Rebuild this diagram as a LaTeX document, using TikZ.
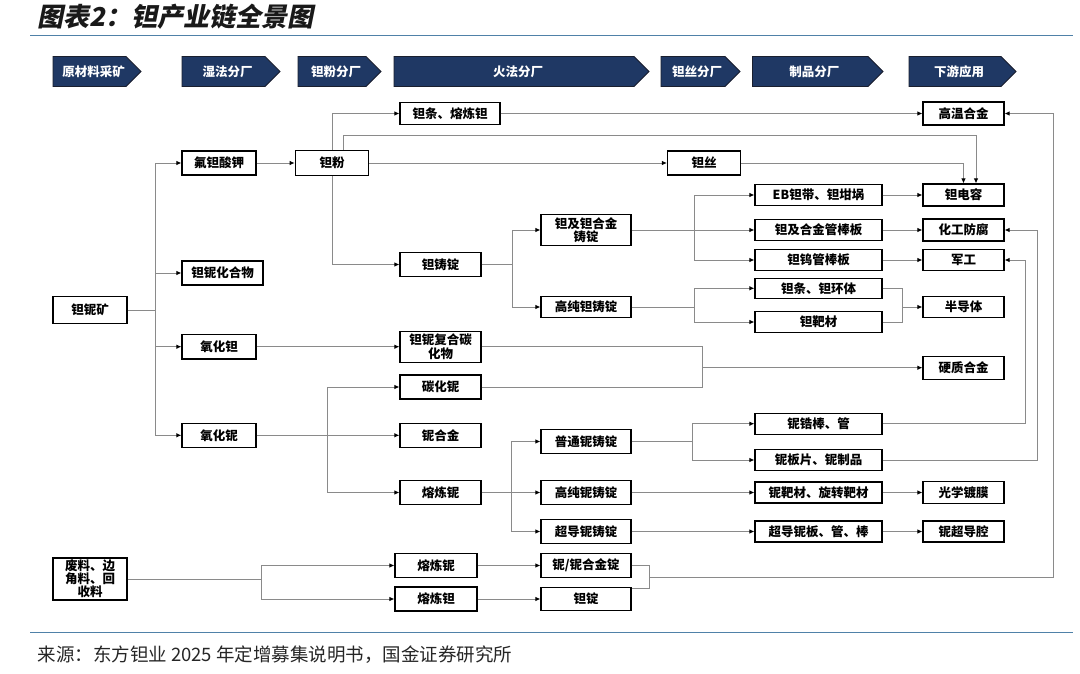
\documentclass[tikz,border=0pt]{standalone}
\usepackage{fontspec}
\setmainfont{Noto Sans CJK SC}
\newfontfamily\titlefont{Noto Sans CJK SC}[FakeSlant=0.2]
\usetikzlibrary{arrows.meta}
\definecolor{navy}{HTML}{1F3864}
\definecolor{navyline}{HTML}{1A1F2E}
\definecolor{rulec}{HTML}{4F81A8}
\definecolor{lin}{HTML}{8A8A8A}
\newcommand\mychev[4]{%
  \fill[navy,draw=navyline,line width=0.9pt] (#1,56.5) -- ({#2-15},56.5) -- (#2,71.5) -- ({#2-15},86.5) -- (#1,86.5) -- cycle;
  \node[chevtext] (#3) at ({(#1+#2-7)/2},71.5) {#4};}
\begin{document}
\begin{tikzpicture}[x=1pt,y=-1pt,
  box/.style={draw=black,line width=1.2pt,fill=white,inner sep=0pt,align=center,
    font=\fontsize{12.5}{13.5}\selectfont\bfseries},
  sz/.style 2 args={minimum width=#1pt,minimum height=#2pt},
  conn/.style={draw=lin,line width=0.9pt},
  arr/.style={conn,-{Latex[length=5pt,width=4.5pt,color=black]}},
  chevtext/.style={text=white,font=\fontsize{12.5}{14}\selectfont\bfseries,inner sep=0pt}]
\useasboundingbox (0,0) rectangle (1080,673);

% title and rules
\node[anchor=west,font=\titlefont\fontsize{26}{28}\selectfont\bfseries,text=black!90] (title) at (34,17) {图表2：钽产业链全景图};
\draw[rulec,line width=1.4pt] (30,35.5) -- (1073,35.5);
\draw[rulec,line width=1.4pt] (30,632.7) -- (1073,632.7);
\node[anchor=west,font=\fontsize{18.5}{20}\selectfont,text=black!85] (src) at (34,655) {来源：东方钽业 2025 年定增募集说明书，国金证券研究所};

% header chevrons
\mychev{53}{141}{h1}{原材料采矿}
\mychev{182}{280}{h2}{湿法分厂}
\mychev{298}{381}{h3}{钽粉分厂}
\mychev{394}{649}{h4}{火法分厂}
\mychev{661}{740}{h5}{钽丝分厂}
\mychev{752.5}{883}{h6}{制品分厂}
\mychev{909}{1016}{h7}{下游应用}

% column 0
\node[box,sz={74}{27}] (kuang) at (90,310) {钽铌矿};
\node[box,sz={74}{42},font=\fontsize{12.5}{13}\selectfont\bfseries] (fl) at (90,579) {废料、边\\角料、回\\收料};
% column 1
\node[box,sz={74}{24}] (fu) at (219,163) {氟钽酸钾};
\node[box,sz={81}{24}] (hhw) at (222.5,273) {钽铌化合物};
\node[box,sz={74}{24.5}] (yht) at (219,346.7) {氧化钽};
\node[box,sz={74}{24}] (yhn) at (219,435.3) {氧化铌};
% column 2
\node[box,sz={73.5}{25}] (fen) at (332,163) {钽粉};
% column 3
\node[box,sz={100}{22}] (tiao) at (450,113.5) {钽条、熔炼钽};
\node[box,sz={81}{24}] (zd) at (440.5,264.5) {钽铸锭};
\node[box,sz={81}{31}] (fh) at (440.5,346.7) {钽铌复合碳\\化物};
\node[box,sz={81}{24}] (thn) at (440.5,387) {碳化铌};
\node[box,sz={81}{24}] (nhj) at (440.5,435.3) {铌合金};
\node[box,sz={81}{24}] (rln) at (440.5,492.5) {熔炼铌};
\node[box,sz={82}{24}] (rln2) at (436,565.5) {熔炼铌};
\node[box,sz={82}{24}] (rlt) at (436,599) {熔炼钽};
% column 4
\node[box,sz={90}{31}] (hj) at (586,230) {钽及钽合金\\铸锭};
\node[box,sz={90}{21}] (gczd) at (586,307) {高纯钽铸锭};
\node[box,sz={90}{24}] (ptn) at (586,441.5) {普通铌铸锭};
\node[box,sz={90}{24}] (gcn) at (586,492.5) {高纯铌铸锭};
\node[box,sz={90}{24.5}] (cdn) at (586,531.5) {超导铌铸锭};
\node[box,sz={90}{24}] (nnh) at (586,565.5) {铌/铌合金锭};
\node[box,sz={90}{23.5}] (td) at (586,599) {钽锭};
% column 5
\node[box,sz={73}{24}] (si) at (704,163) {钽丝};
\node[box,sz={127}{21}] (eb) at (818.5,195) {EB钽带、钽坩埚};
\node[box,sz={127}{21}] (gbb) at (818.5,230) {钽及合金管棒板};
\node[box,sz={127}{21}] (wgb) at (818.5,260) {钽钨管棒板};
\node[box,sz={127}{20}] (ttht) at (818.5,288.3) {钽条、钽环体};
\node[box,sz={127}{21}] (bc) at (818.5,322) {钽靶材};
\node[box,sz={127}{21}] (ngb) at (818.5,423.7) {铌锆棒、管};
\node[box,sz={127}{21}] (nbp) at (818.5,460) {铌板片、铌制品};
\node[box,sz={127}{21}] (nbx) at (818.5,492.5) {铌靶材、旋转靶材};
\node[box,sz={127}{21}] (cdb) at (818.5,531.5) {超导铌板、管、棒};
% column 6
\node[box,sz={81}{23}] (gw) at (963.5,113.5) {高温合金};
\node[box,sz={81}{22}] (cap) at (963.5,195) {钽电容};
\node[box,sz={81}{22}] (hg) at (963.5,230) {化工防腐};
\node[box,sz={81}{21}] (jg) at (963.5,260) {军工};
\node[box,sz={81}{21}] (bdt) at (963.5,307) {半导体};
\node[box,sz={81}{23}] (yzhj) at (963.5,367.7) {硬质合金};
\node[box,sz={81}{22}] (gxdm) at (963.5,492.5) {光学镀膜};
\node[box,sz={81}{21}] (ncd) at (963.5,531.5) {铌超导腔};

% connectors
\coordinate (b1) at (155,310);
\draw[conn] (kuang.east) -- (b1);
\draw[arr] (b1) |- (fu.west);
\draw[arr] (b1) |- (hhw.west);
\draw[arr] (b1) |- (yht.west);
\draw[arr] (b1) |- (yhn.west);
\draw[arr] (fu.east) -- (fen.west);
\draw[arr] (fen.north) |- (tiao.west);
\draw[arr] ([xshift=11.7pt]fen.north) -- ++(0,-14.7) -| ([xshift=12.5pt]cap.north);
\draw[arr] (fen.south) |- (zd.west);
\draw[arr] (fen.east) -- (si.west);
\draw[arr] (si.east) -| (cap.north);
\draw[arr] (tiao.east) -- (gw.west);

\coordinate (b2) at (512,264.5);
\draw[conn] (zd.east) -- (b2);
\draw[arr] (b2) |- (hj.west);
\draw[arr] (b2) |- (gczd.west);
\coordinate (b3) at (694,230);
\draw[arr] (hj.east) -- (gbb.west);
\draw[arr] (b3) |- (eb.west);
\draw[arr] (b3) |- (wgb.west);
\draw[arr] (eb.east) -- (cap.west);
\draw[arr] (gbb.east) -- (hg.west);
\draw[arr] (wgb.east) -- (jg.west);
\coordinate (b4) at (694,307);
\draw[conn] (gczd.east) -- (b4);
\draw[arr] (b4) |- (ttht.west);
\draw[arr] (b4) |- (bc.west);
\coordinate (b5) at (902,307);
\draw[conn] (ttht.east) -| (b5);
\draw[conn] (bc.east) -| (b5);
\draw[arr] (b5) -- (bdt.west);

\draw[arr] (yht.east) -- (fh.west);
\coordinate (b6) at (702.7,367.7);
\draw[conn] (fh.east) -| (b6);
\draw[conn] (thn.east) -| (b6);
\draw[arr] (b6) -- (yzhj.west);

\coordinate (b7) at (327.8,435.3);
\draw[conn] (yhn.east) -- (b7);
\draw[arr] (b7) |- (thn.west);
\draw[arr] (b7) -- (nhj.west);
\draw[arr] (b7) |- (rln.west);
\coordinate (b8) at (511,492.5);
\draw[conn] (rln.east) -- (b8);
\draw[arr] (b8) |- (ptn.west);
\draw[arr] (b8) -- (gcn.west);
\draw[arr] (b8) |- (cdn.west);
\coordinate (b9) at (692.5,441.5);
\draw[conn] (ptn.east) -- (b9);
\draw[arr] (b9) |- (ngb.west);
\draw[arr] (b9) |- (nbp.west);
\draw[arr] (ngb.east) -| ([xshift=20.5pt]jg.east) -- (jg.east);
\draw[arr] (nbp.east) -| ([xshift=33pt]hg.east) -- (hg.east);
\draw[arr] (gcn.east) -- (nbx.west);
\draw[arr] (nbx.east) -- (gxdm.west);
\draw[arr] (cdn.east) -- (cdb.west);
\draw[arr] (cdb.east) -- (ncd.west);

\coordinate (b10) at (261.7,579);
\draw[conn] (fl.east) -- (b10);
\draw[arr] (b10) |- (rln2.west);
\draw[arr] (b10) |- (rlt.west);
\draw[arr] (rln2.east) -- (nnh.west);
\draw[arr] (rlt.east) -- (td.west);
\coordinate (b11) at (649.5,577.7);
\draw[conn] (nnh.east) -| (b11);
\draw[conn] ([yshift=11pt]td.east) -| (b11);
\draw[arr] (b11) -| ([xshift=48.5pt]gw.east) -- (gw.east);
\end{tikzpicture}
\end{document}
